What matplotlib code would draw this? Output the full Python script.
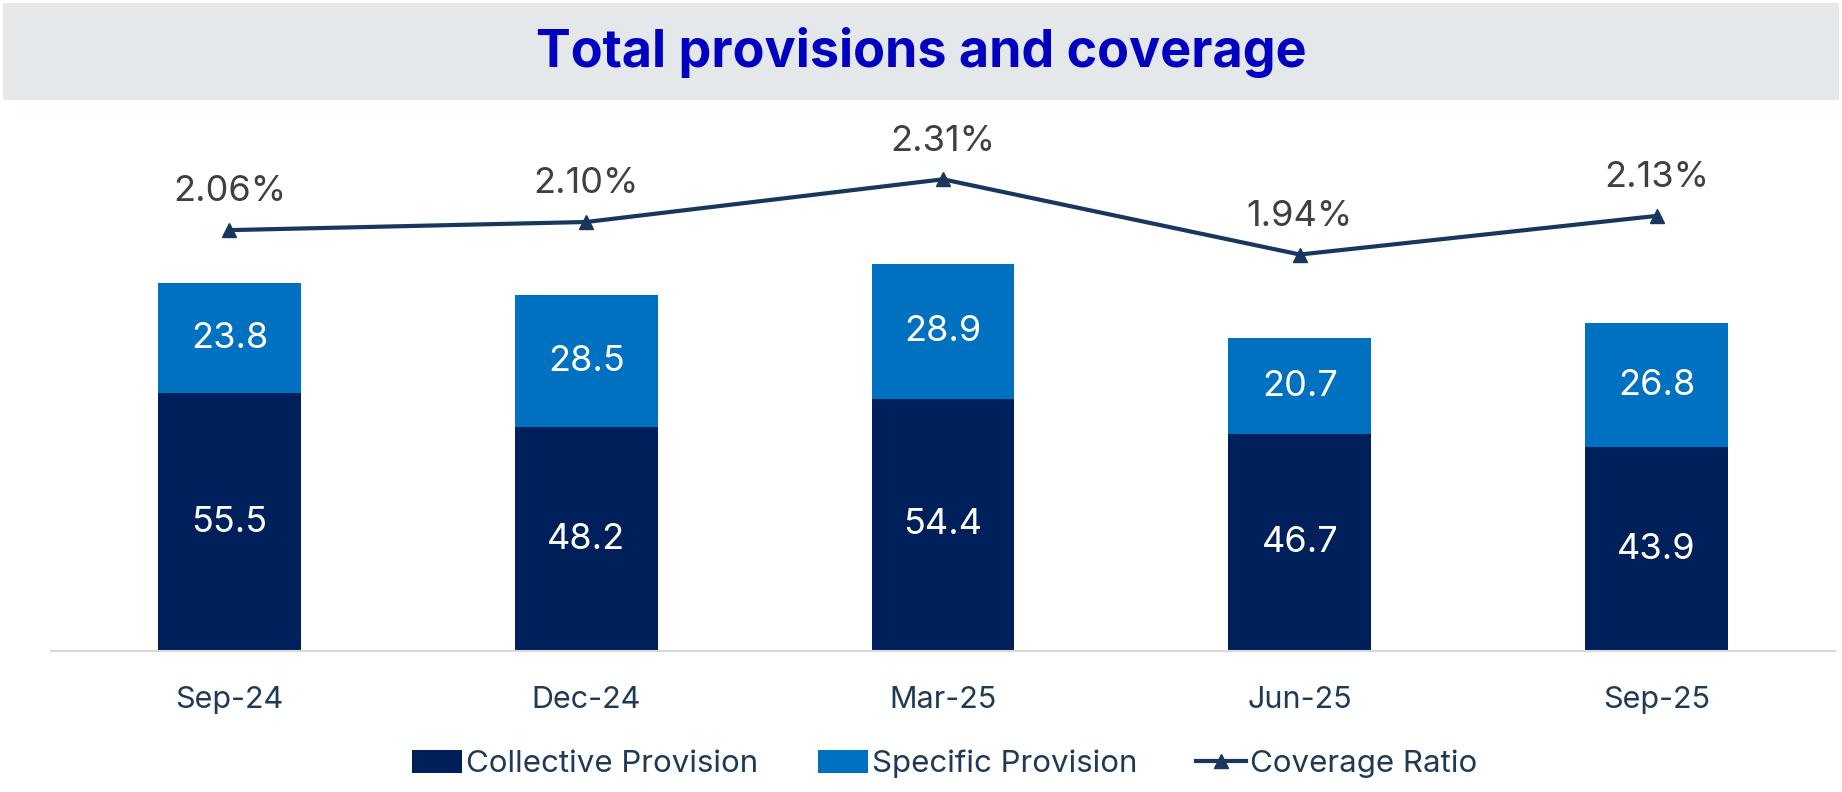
import matplotlib
matplotlib.use("Agg")
import matplotlib.pyplot as plt
from matplotlib.patches import Rectangle, Patch
from matplotlib.lines import Line2D

plt.rcParams['font.family'] = ['Inter', 'DejaVu Sans']

categories = ["Sep-24", "Dec-24", "Mar-25", "Jun-25", "Sep-25"]
collective = [55.5, 48.2, 54.4, 46.7, 43.9]
specific = [23.8, 28.5, 28.9, 20.7, 26.8]
coverage = [2.06, 2.10, 2.31, 1.94, 2.13]

C_COLL = "#00205B"
C_SPEC = "#0070C0"
C_LINE = "#17375E"
C_TITLE = "#0000C0"
C_TEXT = "#1F3A56"

fig = plt.figure(figsize=(18.42, 7.92), dpi=100)

# title band
fig.patches.append(Rectangle((3/1842, 1-100/792), 1836/1842, 97/792,
                             transform=fig.transFigure, facecolor="#E5E8EB",
                             edgecolor="none", zorder=0))
fig.text(0.5, 1-53/792, "Total provisions and coverage", ha="center", va="center",
         fontsize=37.5, fontweight="bold", color=C_TITLE)

ax = fig.add_axes([51/1842, 1-651/792, 1784/1842, 551/792])
x = list(range(len(categories)))
w = 0.40
ax.bar(x, collective, w, color=C_COLL, zorder=2)
ax.bar(x, specific, w, bottom=collective, color=C_SPEC, zorder=2)
for i in x:
    ax.text(i, collective[i] / 2, f"{collective[i]:.1f}", ha="center", va="center",
            color="white", fontsize=26)
    ax.text(i, collective[i] + specific[i] / 2, f"{specific[i]:.1f}", ha="center",
            va="center", color="white", fontsize=26)

ax.set_xlim(-0.5, 4.5)
ax.set_ylim(0, 118.75)
ax.set_xticks(x)
ax.set_xticklabels(categories, fontsize=22, color=C_TEXT)
ax.tick_params(axis="x", length=0, pad=25.5)
ax.set_yticks([])
for s in ["top", "right", "left"]:
    ax.spines[s].set_visible(False)
ax.spines["bottom"].set_color("#D9D9D9")
ax.spines["bottom"].set_linewidth(1.5)
ax.set_facecolor("none")

ax2 = ax.twinx()
ax2.plot(x, coverage, color=C_LINE, lw=3, marker="^", markersize=10, zorder=3)
ax2.set_ylim(-0.01, 2.70)
ax2.set_yticks([])
for s in ["top", "right", "left", "bottom"]:
    ax2.spines[s].set_visible(False)
for i in x:
    ax2.annotate(f"{coverage[i]:.2f}%", (i, coverage[i]), xytext=(0, 27.5),
                 textcoords="offset points", ha="center", va="center",
                 fontsize=26, color="#404040")

handles = [Patch(facecolor=C_COLL, label="Collective Provision"),
           Patch(facecolor=C_SPEC, label="Specific Provision"),
           Line2D([0], [0], color=C_LINE, lw=3, marker="^", markersize=10,
                  label="Coverage Ratio")]
leg = fig.legend(handles=handles, loc="center", bbox_to_anchor=(0.513, 1-764/792),
                 ncol=3, frameon=False, fontsize=22.5, handlelength=1.6,
                 handleheight=0.75, handletextpad=0.12, columnspacing=1.9)
for t in leg.get_texts():
    t.set_color(C_TEXT)

fig.savefig("out.png", dpi=100)
